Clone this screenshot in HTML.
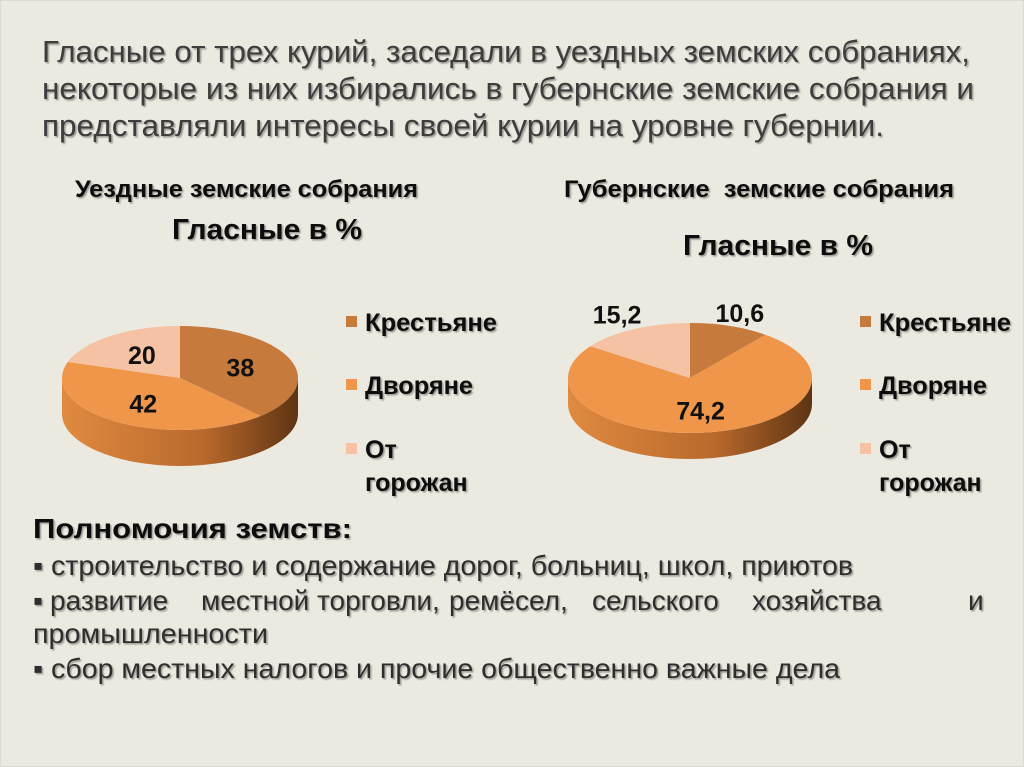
<!DOCTYPE html>
<html><head><meta charset="utf-8">
<style>
html,body{margin:0;padding:0;background:#eceae0;}
svg{display:block;font-family:"Liberation Sans",Arial,sans-serif;}
</style></head>
<body>
<svg id="slide" width="1024" height="767" viewBox="0 0 1024 767">
<defs>
<filter id="sh" x="-5%" y="-20%" width="110%" height="140%"><feDropShadow dx="1.5" dy="1.5" stdDeviation="0.8" flood-color="#000" flood-opacity="0.35"/></filter>
<linearGradient id="sideL" x1="0" x2="1" y1="0" y2="0"><stop offset="0" stop-color="#e08a40"/><stop offset="0.6" stop-color="#b9692c"/><stop offset="1" stop-color="#5e3413"/></linearGradient>
<linearGradient id="sideR" x1="0" x2="1" y1="0" y2="0"><stop offset="0" stop-color="#e08a40"/><stop offset="0.6" stop-color="#b9692c"/><stop offset="1" stop-color="#5e3413"/></linearGradient>
</defs>
<rect x="0.5" y="0.5" width="1023" height="766" fill="#eceae0" stroke="#dcd9ce"/>
<g fill="#3c3c3c" font-size="31" filter="url(#sh)">
<text x="42" y="62" textLength="928" lengthAdjust="spacingAndGlyphs">Гласные от трех курий, заседали в уездных земских собраниях,</text>
<text x="42" y="99" textLength="932" lengthAdjust="spacingAndGlyphs">некоторые из них избирались в губернские земские собрания и</text>
<text x="42" y="136" textLength="842" lengthAdjust="spacingAndGlyphs">представляли интересы своей курии на уровне губернии.</text>
</g>
<g fill="#111" font-weight="bold" filter="url(#sh)">
<text x="75" y="197" font-size="24" textLength="343" lengthAdjust="spacingAndGlyphs">Уездные земские собрания</text>
<text x="172" y="239" font-size="29" textLength="190" lengthAdjust="spacingAndGlyphs">Гласные в %</text>
<text x="564" y="197" font-size="24" textLength="390" lengthAdjust="spacingAndGlyphs" xml:space="preserve">Губернские  земские собрания</text>
<text x="683" y="255" font-size="29" textLength="190" lengthAdjust="spacingAndGlyphs">Гласные в %</text>
</g>
<g id="pies"></g>
<g fill="#111" font-weight="bold" filter="url(#sh)">
<text x="33" y="538" font-size="28" textLength="319" lengthAdjust="spacingAndGlyphs">Полномочия земств:</text>
</g>
<g fill="#2e2e2e" font-size="28" filter="url(#sh)">
<text x="33" y="575" textLength="820" lengthAdjust="spacingAndGlyphs">▪ строительство и содержание дорог, больниц, школ, приютов</text>
<text y="610"><tspan x="33">▪</tspan><tspan x="50">развитие</tspan><tspan x="201">местной</tspan><tspan x="317">торговли,</tspan><tspan x="449">ремёсел,</tspan><tspan x="592">сельского</tspan><tspan x="752">хозяйства</tspan><tspan x="968">и</tspan></text>
<text x="33" y="643" textLength="235" lengthAdjust="spacingAndGlyphs">промышленности</text>
<text x="33" y="678" textLength="807" lengthAdjust="spacingAndGlyphs">▪ сбор местных налогов и прочие общественно важные дела</text>
</g>
</svg>
<script>
const categories = ["Крестьяне", "Дворяне", "От горожан"];
const leftValues = [38, 42, 20];
const rightValues = [10.6, 74.2, 15.2];
const leftLabels = ["38", "42", "20"];
const rightLabels = ["10,6", "74,2", "15,2"];
const colors = ["#c67a3c", "#f0964a", "#f5c2a4"];

const NS = "http://www.w3.org/2000/svg";
const root = document.getElementById("pies");
function mk(tag, attrs, parent){const e=document.createElementNS(NS,tag);for(const k in attrs)e.setAttribute(k,attrs[k]);(parent||root).appendChild(e);return e;}
function pt(cx,cy,rx,ry,a){return [cx+rx*Math.sin(a), cy-ry*Math.cos(a)];}

function drawPie(name, values, labels, cx, cy, rx, ry, depth, labelFrac, legendX, grad){
  const g = mk("g",{});
  
  
  const side = mk("path",{d:`M${cx-rx},${cy} A${rx},${ry} 0 0 0 ${cx+rx},${cy} L${cx+rx},${cy+depth} A${rx},${ry} 0 0 1 ${cx-rx},${cy+depth} Z`, fill:`url(#${grad})`}, g);
  
  
  const total = values.reduce((a,b)=>a+b,0);
  let a0 = 0;
  values.forEach((v,i)=>{
    const a1 = a0 + v/total*2*Math.PI;
    const p0 = pt(cx,cy,rx,ry,a0), p1 = pt(cx,cy,rx,ry,a1);
    const large = (a1-a0) > Math.PI ? 1 : 0;
    const s = mk("path",{d:`M${cx},${cy} L${p0[0]},${p0[1]} A${rx},${ry} 0 ${large} 1 ${p1[0]},${p1[1]} Z`, fill:colors[i]}, g);
    
    
    const am = (a0+a1)/2;
    const lp = pt(cx,cy,rx*labelFrac[i],ry*labelFrac[i],am);
    const t = mk("text",{x:lp[0], y:lp[1]+9, "text-anchor":"middle", "font-size":25, "font-weight":"bold", fill:"#111"}, g);
    t.textContent = labels[i];
    
    
    a0 = a1;
  });
  const ys = [331, 394, 458];
  categories.forEach((c,i)=>{
    const r = mk("rect",{x:legendX, y:ys[i]-15, width:11, height:11, fill:colors[i]});
    
    
    const attrs = {x:legendX+19, y:ys[i], "font-size":25, "font-weight":"bold", fill:"#111", filter:"url(#sh)"};
    if (c === "Дворяне") { attrs.textLength = 108; attrs.lengthAdjust = "spacingAndGlyphs"; }
    if (c === "Крестьяне") { attrs.textLength = 132; attrs.lengthAdjust = "spacingAndGlyphs"; }
    const t = mk("text", attrs);
    
    
    if (c === "От горожан") {
      t.textContent = "От";
      const t2 = mk("text",{x:legendX+19, y:ys[i]+33, "font-size":25, "font-weight":"bold", fill:"#111", filter:"url(#sh)"});
      t2.textContent = "горожан";
      
      
    } else t.textContent = c;
  });
}
drawPie("left-pie", leftValues, leftLabels, 180, 378, 118, 52, 36, [0.55,0.58,0.55], 346, "sideL");
drawPie("right-pie", rightValues, rightLabels, 690, 378, 122, 55, 26, [1.25,0.6,1.3], 860, "sideR");
</script>
</body></html>
